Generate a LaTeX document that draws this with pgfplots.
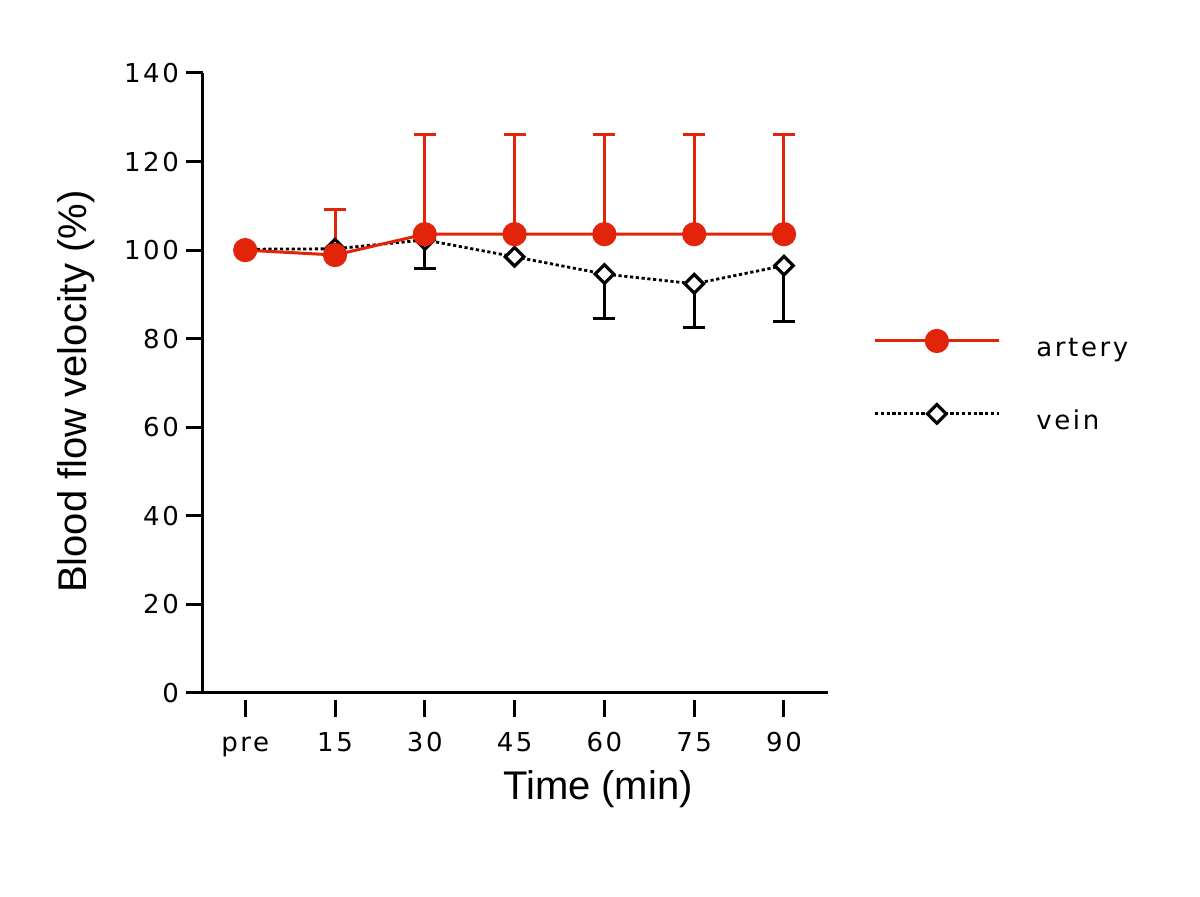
\documentclass[border=0pt]{standalone}
\usepackage{pgfplots}
\pgfplotsset{compat=1.18}
\usepackage{fontspec}
\setmainfont{Liberation Sans}
\newfontfamily\tickfont[LetterSpace=10]{DejaVu Sans}
\definecolor{artred}{RGB}{226,36,10}
\begin{document}
\begin{tikzpicture}
\begin{axis}[
  name=ax, at={(0,0)}, anchor=south west,
  scale only axis, width=312.5pt, height=310pt,
  xmin=-0.47, xmax=6.49, ymin=0, ymax=140,
  axis lines*=left,
  axis line style={line width=1.5pt},
  xtick={0,...,6}, xticklabels={pre,15,30,45,60,75,90},
  ytick={0,20,...,140},
  tick align=outside, major tick length=8.5pt,
  every tick/.style={black, line width=1.5pt},
  xtick style={yshift=-3.5pt},
  /pgf/number format/assume math mode=true,
  tick label style={font=\tickfont\fontsize{13}{15}\selectfont},
  xticklabel style={yshift=-9pt, text height=1.6ex, text depth=0.45ex},
  xlabel={Time (min)}, ylabel={Blood flow velocity (\%)},
  label style={font=\fontsize{20}{24}\selectfont},
  xlabel style={at={(axis description cs:0.632,-0.155)}, anchor=center},
  ylabel style={at={(axis description cs:-0.203,0.486)}, anchor=center},
  reverse legend,
  legend style={at={(1.072,0.51)}, anchor=west, draw=none, fill=none,
    font=\tickfont\fontsize{13}{15}\selectfont, row sep=26.5pt, inner sep=0pt},
  legend cell align=left,
  legend image code/.code={\draw[mark repeat=2,mark phase=2,#1] plot coordinates {(0pt,0pt) (31pt,0pt) (62pt,0pt)};},
]
% vein error bars (lower)
\addplot[draw=none, mark=none, forget plot, black,
  error bars/.cd, y dir=minus, y explicit,
  error bar style={line width=1.5pt, solid},
  error mark options={rotate=90, mark size=5.5pt, line width=1.5pt, solid}]
  table[x=x, y=y, y error=e] {
x y e
2 102.3 6.4
4 94.6 10.1
5 92.4 9.9
6 96.5 12.6
};
% vein
\addplot[black, line width=1.4pt, dash pattern=on 1.6pt off 1.3pt,
  mark=square*, mark size=3.3pt,
  mark options={solid, fill=white, draw=black, line width=1.6pt, rotate=45}]
  table[x=x, y=y] {
x y
0 100.2
1 100.3
2 102.3
3 98.5
4 94.6
5 92.4
6 96.5
};
\addlegendentry{\hspace*{16pt}\raisebox{-7.5pt}{vein}}
% artery error bars (upper)
\addplot[draw=none, mark=none, forget plot, artred,
  error bars/.cd, y dir=plus, y explicit,
  error bar style={line width=1.5pt, solid},
  error mark options={rotate=90, mark size=5.5pt, line width=1.5pt, solid}]
  table[x=x, y=y, y error=e] {
x y e
1 98.9 10.3
2 103.6 22.4
3 103.6 22.4
4 103.6 22.4
5 103.6 22.4
6 103.6 22.4
};
% artery
\addplot[artred, line width=1.5pt, mark=*, mark size=5.3pt,
  mark options={solid, fill=artred}]
  table[x=x, y=y] {
x y
0 100.0
1 98.9
2 103.6
3 103.6
4 103.6
5 103.6
6 103.6
};
\addlegendentry{\hspace*{16pt}\raisebox{-7.5pt}{artery}}
\end{axis}
\pgfresetboundingbox
\path ([shift={(-101.5pt,-102pt)}]ax.south west) rectangle ([shift={(498.5pt,346.5pt)}]ax.south west);
\end{tikzpicture}
\end{document}
